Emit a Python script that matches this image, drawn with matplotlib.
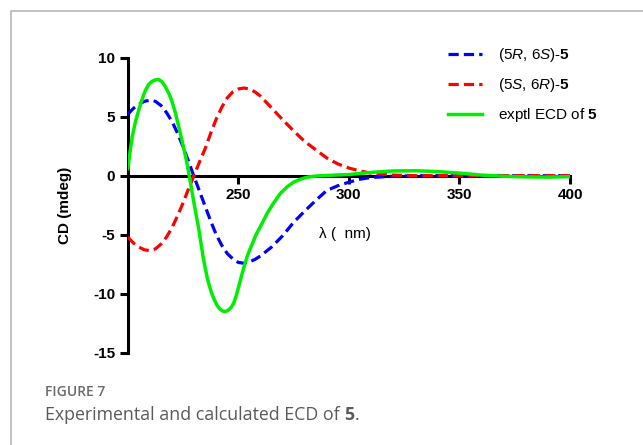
import numpy as np
import matplotlib
matplotlib.use("Agg")
import matplotlib.pyplot as plt
from matplotlib.patches import Rectangle

plt.rcParams["font.family"] = ["Liberation Sans", "DejaVu Sans"]
plt.rcParams["axes.unicode_minus"] = False
plt.rcParams["mathtext.fontset"] = "custom"
plt.rcParams["mathtext.rm"] = "Liberation Sans"
plt.rcParams["mathtext.it"] = "Liberation Sans:italic"
plt.rcParams["mathtext.bf"] = "Liberation Sans:bold"

# (5R, 6S)-5 calculated ECD
wl_rs = [200, 202.5, 205, 207.5, 210, 212.5, 215, 217.5, 220, 222.5, 225, 227.5,
         230, 232.5, 235, 237.5, 240, 242.5, 245, 247.5, 250, 252.5, 255, 257.5,
         260, 265, 270, 275, 280, 285, 290, 295, 300, 305, 310, 320, 330, 400]
cd_rs = [5.2, 5.7, 6.05, 6.3, 6.4, 6.3, 5.95, 5.35, 4.6, 3.6, 2.45, 1.2,
         -0.1, -1.35, -2.6, -3.85, -5.0, -5.9, -6.6, -7.05, -7.35, -7.42, -7.3, -7.1,
         -6.8, -6.05, -5.1, -3.95, -3.0, -2.1, -1.25, -0.85, -0.55, -0.3, -0.15,
         -0.05, 0.0, 0.0]

# (5S, 6R)-5 calculated ECD
wl_sr = [200, 202.5, 205, 207.5, 210, 212.5, 215, 217.5, 220, 222.5, 225, 227.5,
         230, 232.5, 235, 237.5, 240, 242.5, 245, 247.5, 250, 252.5, 255, 257.5,
         260, 265, 270, 275, 280, 285, 290, 295, 300, 305, 310, 320, 330, 400]
cd_sr = [-5.2, -5.7, -6.05, -6.28, -6.35, -6.2, -5.8, -5.2, -4.4, -3.4, -2.3, -1.1,
         0.05, 1.2, 2.3, 3.6, 4.8, 5.8, 6.6, 7.1, 7.35, 7.43, 7.35, 7.1,
         6.75, 5.75, 4.75, 3.8, 2.9, 2.2, 1.5, 1.0, 0.65, 0.4, 0.22,
         0.05, 0.0, 0.0]

# experimental ECD
wl_exp = [200, 201, 202, 203.5, 205, 206.5, 208, 209.5, 211, 212.5, 214, 215.5,
          217, 218.5, 220, 221.5, 223, 224.5, 226, 227, 228, 229, 230, 231, 232,
          233, 234, 235, 236, 237, 238, 239, 240, 241, 242, 243, 244, 245, 246,
          247, 248, 249, 250, 251, 252, 253, 254, 255, 256, 258, 260, 263, 266,
          269, 272, 275, 278, 281, 285, 290, 300, 310, 320, 330, 340, 350, 360,
          370, 380, 390, 400]
cd_exp = [0.6, 2.0, 3.3, 4.6, 5.6, 6.5, 7.25, 7.75, 8.0, 8.12, 8.15, 7.95,
          7.55, 7.0, 6.3, 5.35, 4.2, 3.0, 1.75, 0.8, -0.2, -1.3, -2.4, -3.4, -4.4,
          -5.6, -6.8, -7.8, -8.7, -9.4, -10.0, -10.45, -10.85, -11.15, -11.35,
          -11.48, -11.5, -11.45, -11.3, -11.1, -10.75, -10.2, -9.5, -8.8, -8.1,
          -7.45, -6.85, -6.35, -5.9, -5.0, -4.3, -3.2, -2.3, -1.5, -0.95, -0.55,
          -0.3, -0.13, -0.03, 0.02, 0.1, 0.28, 0.4, 0.42, 0.35, 0.22, 0.05,
          -0.05, -0.1, -0.12, -0.08]

W, H = 643, 445
fig = plt.figure(figsize=(W / 100, H / 100), dpi=100)

# thin grey frame of the figure panel
fig.patches.append(Rectangle((11 / W, -0.1), 1.2, 1 - 11 / H + 0.1,
                             transform=fig.transFigure, fill=False,
                             edgecolor="#b8b8b8", linewidth=1.2))

ax = fig.add_axes([127.8 / W, 1 - 352.7 / H, 442.2 / W, 295.0 / H])
ax.patch.set_alpha(0)

dash = (3.2, 1.6)
ax.plot(wl_rs, cd_rs, color="#0000ff", lw=2.3, dashes=dash,
        label=r"(5$\mathit{R}$, 6$\mathit{S}$)-$\mathbf{5}$")
ax.plot(wl_sr, cd_sr, color="#ff0000", lw=2.3, dashes=dash,
        label=r"(5$\mathit{S}$, 6$\mathit{R}$)-$\mathbf{5}$")
ax.plot(wl_exp, cd_exp, color="#00ee00", lw=2.5, solid_joinstyle="round",
        label=r"exptl ECD of $\mathbf{5}$")

ax.set_xlim(200, 400)
ax.set_ylim(-15, 10)
ax.spines["top"].set_visible(False)
ax.spines["right"].set_visible(False)
ax.spines["bottom"].set_position(("data", 0))
for s in ("left", "bottom"):
    ax.spines[s].set_linewidth(2.2)
    ax.spines[s].set_zorder(1)

ax.set_xticks([250, 300, 350, 400])
ax.set_yticks([-15, -10, -5, 0, 5, 10])
ax.tick_params(axis="both", width=2.2, length=6, labelsize=11, pad=3)
for lab in ax.get_xticklabels() + ax.get_yticklabels():
    lab.set_fontweight("bold")

ax.set_ylabel("CD (mdeg)", fontsize=11, fontweight="bold")
ax.yaxis.set_label_coords(-0.126, 0.5)
ax.text(298, -4.9, "λ (  nm)", fontsize=11, ha="center", va="center")

leg = ax.legend(loc="upper left", bbox_to_anchor=(448 / W, 1 - 46 / H),
                bbox_transform=fig.transFigure, frameon=False, fontsize=11,
                handlelength=2.2, handletextpad=1.1, labelspacing=0.8,
                borderpad=0, borderaxespad=0)

fig.text(45 / W, 1 - 392 / H, "FIGURE 7", fontsize=10, color="#6a6a6a",
         fontweight="semibold", family=["Open Sans", "DejaVu Sans"], va="center")
fig.text(45 / W, 1 - 415 / H, "Experimental and calculated ECD of ", fontsize=12.8,
         color="#5a5a5a", family=["Open Sans", "DejaVu Sans"], va="center")

# bold compound number after the caption text
renderer = fig.canvas.get_renderer()
cap = fig.texts[-1]
bb = cap.get_window_extent(renderer)
t5 = fig.text(bb.x1 / W, 1 - 415 / H, "5", fontsize=12.8, color="#5a5a5a",
              fontweight="bold", family=["Open Sans", "DejaVu Sans"], va="center")
bb5 = t5.get_window_extent(renderer)
fig.text(bb5.x1 / W, 1 - 415 / H, ".", fontsize=12.8, color="#5a5a5a",
         family=["Open Sans", "DejaVu Sans"], va="center")

fig.savefig("out.png", dpi=100)
